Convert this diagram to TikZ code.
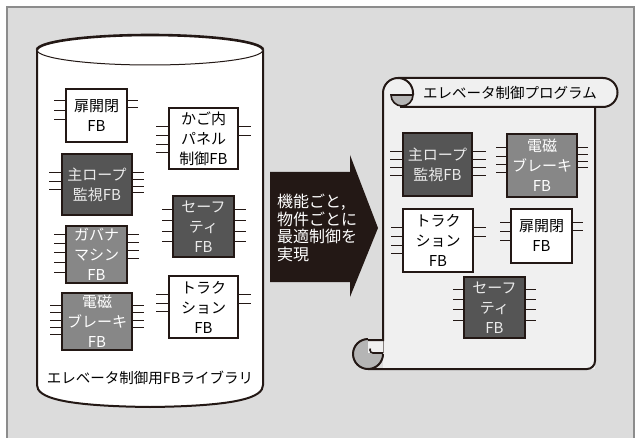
\documentclass[tikz,border=0pt]{standalone}
\usepackage{fontspec}
\setmainfont{Noto Sans CJK JP}
\definecolor{bg}{HTML}{DCDCDC}
\definecolor{frameg}{HTML}{8C8C8C}
\definecolor{scrollbg}{HTML}{F0F0F0}
\definecolor{darkbox}{HTML}{555555}
\definecolor{midbox}{HTML}{878787}
\definecolor{curlgray}{HTML}{B5B5B5}
\definecolor{ink}{HTML}{231815}
\newcommand\lpins[3]{\foreach \yy in {#2} {\draw[pinline] (#1.north west) ++(0,\yy) -- ++(-#3,0);}}
\newcommand\rpins[3]{\foreach \yy in {#2} {\draw[pinline] (#1.north east) ++(0,\yy) -- ++(#3,0);}}
\begin{document}
\begin{tikzpicture}[x=1pt,y=-1pt,
  fbbox/.style={draw=ink, line width=1.1pt, align=center, inner sep=0pt,
    font=\fontsize{15}{20}\selectfont},
  fbw/.style={fbbox, fill=white, text=black},
  fbd/.style={fbbox, fill=darkbox, text=white!92!black},
  fbm/.style={fbbox, fill=midbox, text=white},
  pinline/.style={draw=ink, line width=1.1pt},
  heavy/.style={draw=ink, line width=2pt},
  lbl/.style={font=\fontsize{14.5}{17}\selectfont, text=black, inner sep=0pt}]
\useasboundingbox (0,0) rectangle (644,438);
% background frame
\fill[white] (0,0) rectangle (644,438);
\fill[bg] (7,7) rectangle (634,438);
\draw[frameg, line width=1.2pt] (7,438) -- (7,7) -- (634,7) -- (634,438);

% ---------- cylinder (library) ----------
\fill[white] (37,50) -- (37,385) .. controls (37,397) and (60,406) .. (150,407)
  .. controls (240,406) and (263,397) .. (263,385) -- (263,50) -- cycle;
\draw[heavy] (37,50) -- (37,385) .. controls (37,397) and (60,406) .. (150,407)
  .. controls (240,406) and (263,397) .. (263,385) -- (263,50);
\fill[white] (150,50) ellipse[x radius=113pt, y radius=15pt];
\draw[ink, line width=1pt] (263,50) arc[start angle=0, end angle=-180, x radius=113pt, y radius=15pt];
\draw[ink, line width=2.6pt] (37,50) arc[start angle=180, end angle=0, x radius=113pt, y radius=15pt];

\node[fbw, minimum width=61pt, minimum height=53pt] (door) at (96.5,115.5) {扉開閉\\FB};
\lpins{door}{12,22,31}{11} \rpins{door}{12,19}{10}
\node[fbw, minimum width=69pt, minimum height=61pt] (kago) at (203.5,138.5) {かご内\\パネル\\制御FB};
\lpins{kago}{19,28,37,45}{12} \rpins{kago}{19,28}{12}
\node[fbd, minimum width=70pt, minimum height=61pt] (rope) at (97,184.5) {主ロープ\\監視FB};
\lpins{rope}{19,28,36}{12} \rpins{rope}{19,26,33,39}{11}
\node[fbd, minimum width=61pt, minimum height=61pt] (safe) at (203.5,226.5) {セーフ\\ティ\\FB};
\lpins{safe}{14,25,36,46}{10} \rpins{safe}{14,25,36,46}{11}
\node[fbm, minimum width=61pt, minimum height=57pt] (gov) at (96.5,254.5) {ガバナ\\マシン\\FB};
\lpins{gov}{9,18,27,37,47}{11} \rpins{gov}{9,17,25,33}{11}
\node[fbm, minimum width=70pt, minimum height=57pt] (brake) at (97,321.5) {電磁\\ブレーキ\\FB};
\lpins{brake}{13,20,28,35,42}{11} \rpins{brake}{13,20,28,35}{11}
\node[fbw, minimum width=69pt, minimum height=62pt] (trac) at (203.5,307) {トラク\\ション\\FB};
\lpins{trac}{19,28,36}{12} \rpins{trac}{19,28}{12}
\node[lbl] (lib) at (150,378) {エレベータ制御用FBライブラリ};

% ---------- arrow ----------
\fill[ink] (270,172) -- (350,172) -- (350,155) -- (378,228) -- (350,297) -- (350,282) -- (270,282) -- cycle;
\node[anchor=west, align=left, text=white, inner sep=0pt,
  font=\fontsize{16}{17.5}\selectfont] (arrtext) at (277,228) {機能ごと,\\物件ごとに\\最適制御を\\実現};

% ---------- scroll (program) ----------
\fill[scrollbg] (383,93) rectangle (595,369);
\fill[scrollbg] (398,78) -- (603,78) arc[start angle=90, end angle=-90, radius=14.5pt] -- (398,107) -- cycle;
\fill[scrollbg] (398,93) circle[radius=15pt];
% bottom curl
\fill[curlgray] (368,354) circle[radius=15pt];
\fill[scrollbg] (368,340) rectangle (383,353);
\draw[ink!55, line width=0.5pt] (383,340) -- (383,353);
\draw[heavy] (368,339) arc[start angle=90, end angle=360, radius=15pt];
\draw[ink, line width=1.6pt] (383,353) -- (373,353) arc[start angle=270, end angle=150, radius=3pt];
\draw[heavy] (368,369) -- (587,369) arc[start angle=270, end angle=360, radius=8pt] -- (595,107);
% left edge and header
\draw[heavy] (368,340) -- (383,340) -- (383,93) arc[start angle=180, end angle=90, radius=15pt]
  -- (603,78) arc[start angle=90, end angle=-90, radius=14.5pt] -- (400,107);
% top curl
\draw[heavy] (398,78) arc[start angle=90, end angle=0, radius=15pt] -- (413,95);
\filldraw[fill=curlgray, draw=ink, line width=1.6pt] (391,95) -- (413,95) arc[start angle=0, end angle=-180, radius=11pt] -- cycle;
\node[lbl] (title) at (510,93) {エレベータ制御プログラム};

\node[fbd, minimum width=69pt, minimum height=63pt] (rope2) at (437.5,164.5) {主ロープ\\監視FB};
\lpins{rope2}{19,27,35,43}{12} \rpins{rope2}{19,27,35,43}{13}
\node[fbm, minimum width=70pt, minimum height=63pt] (brake2) at (542,165.5) {電磁\\ブレーキ\\FB};
\lpins{brake2}{14,23,31,39}{10} \rpins{brake2}{14,21,28,34}{10}
\node[fbw, minimum width=70pt, minimum height=63pt] (trac2) at (438,240.5) {トラク\\ション\\FB};
\lpins{trac2}{19,28,37,45}{11} \rpins{trac2}{19,28}{12}
\node[fbw, minimum width=61pt, minimum height=54pt] (door2) at (541.5,236) {扉開閉\\FB};
\lpins{door2}{14,23,32}{10} \rpins{door2}{14,22}{10}
\node[fbd, minimum width=61pt, minimum height=61pt] (safe2) at (494.5,307.5) {セーフ\\ティ\\FB};
\lpins{safe2}{13,23,33,44}{10} \rpins{safe2}{13,23,33,44}{10}
\end{tikzpicture}
\end{document}
